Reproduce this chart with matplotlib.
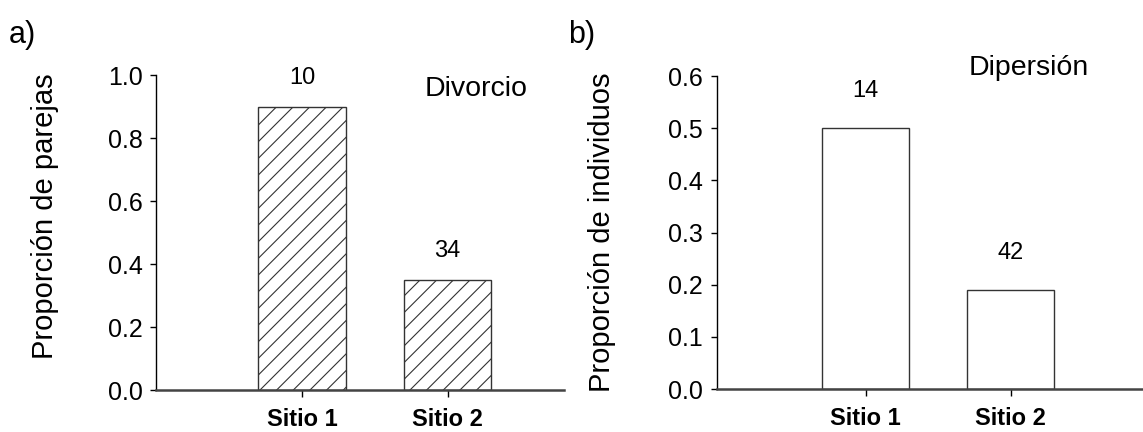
import matplotlib
matplotlib.use("Agg")
import matplotlib.pyplot as plt

plt.rcParams['font.family'] = ['Liberation Sans', 'DejaVu Sans']
plt.rcParams['hatch.linewidth'] = 0.8
plt.rcParams['hatch.color'] = '#333333'

sites = ["Sitio 1", "Sitio 2"]
divorce_values = [0.90, 0.35]
divorce_n = [10, 34]
dispersal_values = [0.50, 0.19]
dispersal_n = [14, 42]

fig = plt.figure(figsize=(11.43, 4.32), dpi=100)
axA = fig.add_axes([0.1368, 0.0972, 0.3566, 0.729])
axB = fig.add_axes([0.6273, 0.0995, 0.3727, 0.7245])

xpos = [1, 2]

def style(ax, ylim, yticks, fmt):
    for s in ['top', 'right']:
        ax.spines[s].set_visible(False)
    ax.spines['left'].set_linewidth(1.0)
    ax.spines['left'].set_color('black')
    ax.spines['bottom'].set_linewidth(1.8)
    ax.spines['bottom'].set_color('#444444')
    ax.set_ylim(*ylim)
    ax.set_yticks(yticks)
    ax.set_yticklabels([fmt.format(t) for t in yticks], fontsize=18)
    ax.set_xticks(xpos)
    ax.set_xticklabels(sites, fontsize=17, fontweight='bold')
    ax.tick_params(axis='y', length=4, width=1, pad=6)
    ax.tick_params(axis='x', length=5, width=1, pad=8)

# Panel a
axA.bar(xpos, divorce_values, width=0.6, color='white', edgecolor='#333333',
        linewidth=1.0, hatch='//')
axA.set_xlim(0, 2.8)
style(axA, (0, 1.0), [0.0, 0.2, 0.4, 0.6, 0.8, 1.0], "{:.1f}")
for x, v, n in zip(xpos, divorce_values, divorce_n):
    axA.annotate(str(n), xy=(x, v), xytext=(0, 13), textcoords='offset points',
                 ha='center', va='bottom', fontsize=17)
axA.text(2.2, 0.957, "Divorcio", ha='center', va='center', fontsize=20.5)
axA.set_ylabel("Proporción de parejas", fontsize=21)
axA.yaxis.set_label_coords(-0.239, 0.552)

# Panel b
axB.bar(xpos, dispersal_values, width=0.6, color='white', edgecolor='#333333',
        linewidth=1.0)
axB.set_xlim(-0.025, 2.91)
style(axB, (0, 0.6), [0.0, 0.1, 0.2, 0.3, 0.4, 0.5, 0.6], "{:.1f}")
for x, v, n in zip(xpos, dispersal_values, dispersal_n):
    axB.annotate(str(n), xy=(x, v), xytext=(0, 19), textcoords='offset points',
                 ha='center', va='bottom', fontsize=17)
axB.text(2.12, 0.615, "Dipersión", ha='center', va='center', fontsize=20.5,
         clip_on=False)
axB.set_ylabel("Proporción de individuos", fontsize=21)
axB.yaxis.set_label_coords(-0.237, 0.5)

fig.text(9 / 1143, 1 - 35 / 432, "a)", fontsize=22, ha='left', va='center')
fig.text(568 / 1143, 1 - 35 / 432, "b)", fontsize=22, ha='left', va='center')

fig.savefig("out.png", dpi=100)
